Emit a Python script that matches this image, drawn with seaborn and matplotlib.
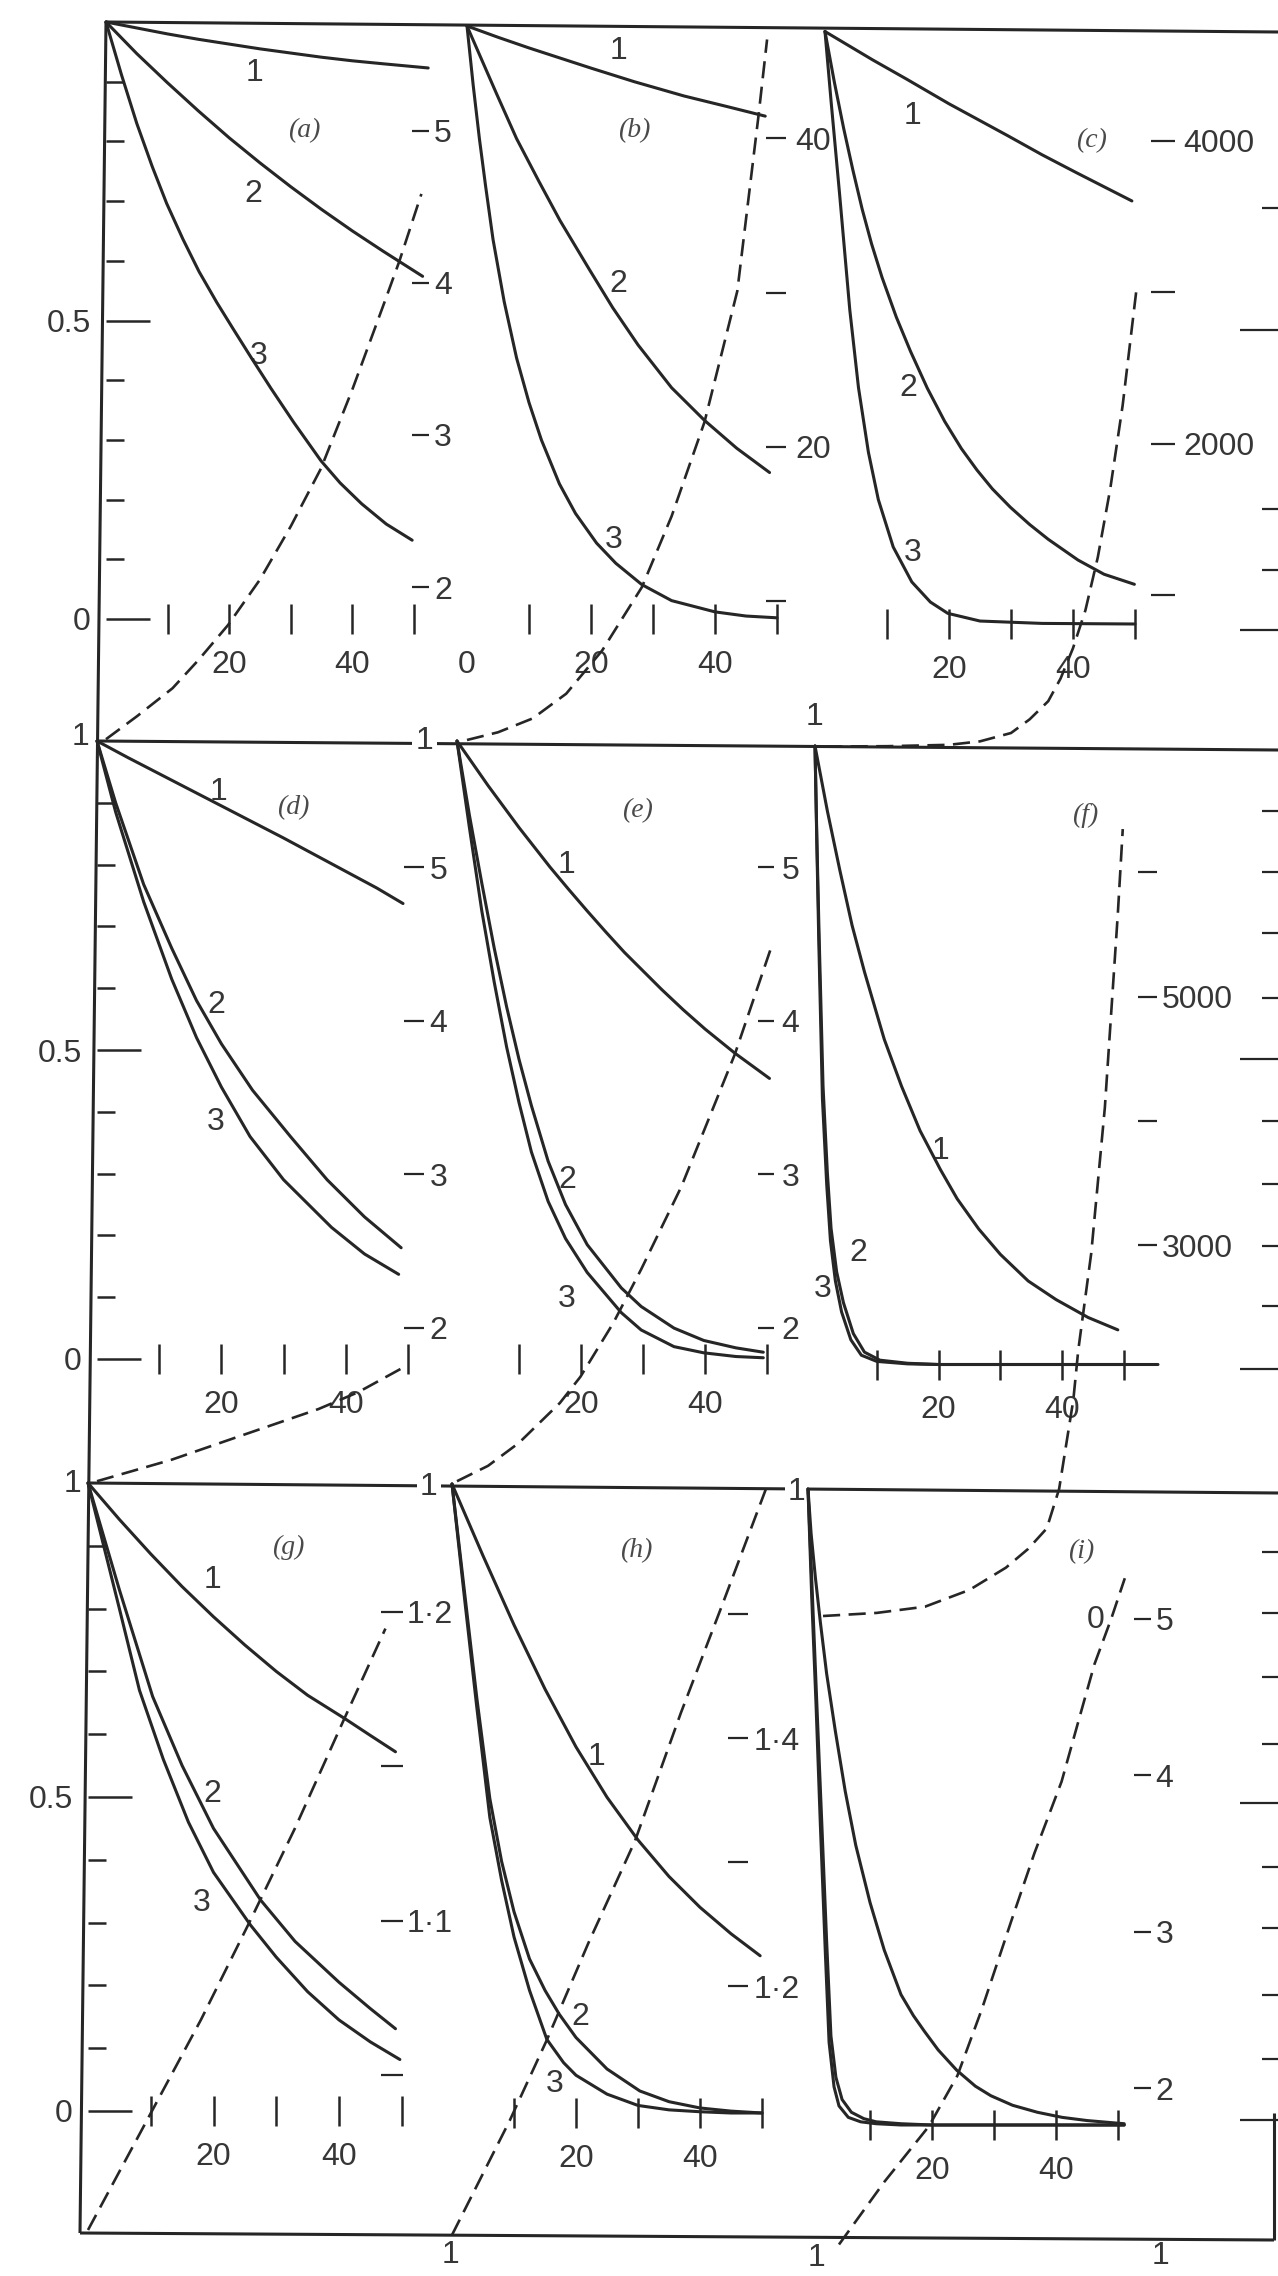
import matplotlib
matplotlib.use("Agg")
import matplotlib.pyplot as plt
import seaborn as sns

# ---------------- curve values (x, plotted quantity) ----------------
# panel (a)
a1_x = [0, 5, 10, 15, 20, 25, 30, 35, 40, 45, 52.3]
a1_y = [1.0, 0.990, 0.980, 0.971, 0.963, 0.955, 0.948, 0.941, 0.935, 0.930, 0.923]
a2_x = [0, 5, 10, 15, 20, 25, 30, 35, 40, 45, 51.4]
a2_y = [1.0, 0.947, 0.898, 0.851, 0.806, 0.764, 0.724, 0.686, 0.650, 0.616, 0.574]
a3_x = [0, 2.5, 5, 7.5, 9.85, 12.5, 15.1, 18, 20.7, 23.5, 26.8, 30.5, 34.9, 38, 41.5, 45.5, 49.7]
a3_y = [1.0, 0.912, 0.83, 0.758, 0.696, 0.636, 0.582, 0.53, 0.485, 0.439, 0.386, 0.329,
        0.265, 0.228, 0.193, 0.159, 0.132]
ad_x = [0, 5, 10.8, 15, 19.8, 25, 30, 34.9, 40, 45, 47.6, 51.2]
ad_y = [1.0, 1.15, 1.335, 1.52, 1.75, 2.05, 2.4, 2.78, 3.3, 3.85, 4.14, 4.585]
a_scale = [2, 3, 4, 5]
a_scale_lbl = ["2", "3", "4", "5"]

# panel (b)
b1_x = [0, 5, 10, 15, 20, 27, 35, 42, 48.1]
b1_y = [1.0, 0.981, 0.963, 0.946, 0.929, 0.906, 0.882, 0.864, 0.848]
b2_x = [0, 2.5, 4.8, 8, 11.6, 15, 19.7, 23.5, 27.6, 33, 38.3, 43.5, 48.8]
b2_y = [1.0, 0.94, 0.885, 0.81, 0.738, 0.672, 0.59, 0.525, 0.462, 0.39, 0.335, 0.288, 0.247]
b3_x = [0, 1, 2, 3, 4.2, 6, 8, 10, 12, 14.9, 17.5, 20.9, 24, 28.2, 33, 40, 45, 50]
b3_y = [1.0, 0.9, 0.81, 0.73, 0.64, 0.535, 0.44, 0.365, 0.302, 0.228, 0.178, 0.128, 0.094,
        0.058, 0.031, 0.012, 0.005, 0.002]
bd_x = [0, 5, 10.6, 16, 21.8, 28.2, 33, 38.3, 43.6, 47, 48.4]
bd_y = [1, 1.5, 2.4, 4.0, 6.8, 10.9, 15.5, 21.6, 30.1, 41.4, 46.4]
b_scale = [10, 20, 30, 40]
b_scale_lbl = ["", "20", "", "40"]

# panel (c)
c1_x = [0, 7.7, 13.1, 20, 29.5, 35, 40.5, 49.5]
c1_y = [1.0, 0.952, 0.92, 0.878, 0.824, 0.792, 0.762, 0.714]
c2_x = [0, 1.5, 3, 4.5, 6, 7.5, 9.2, 11.5, 13.8, 16.5, 19.3, 22, 24.5, 27, 29.9, 33, 36,
        40.8, 45, 49.9]
c2_y = [1.0, 0.915, 0.837, 0.766, 0.70, 0.642, 0.585, 0.518, 0.46, 0.398, 0.342, 0.296,
        0.26, 0.228, 0.197, 0.168, 0.143, 0.108, 0.084, 0.067]
c3_x = [0, 1, 2.35, 4, 5.4, 7, 8.6, 11, 14, 17, 19.8, 25, 35, 50]
c3_y = [1.0, 0.88, 0.726, 0.53, 0.399, 0.29, 0.21, 0.13, 0.071, 0.037, 0.018, 0.005, 0.001, 0.0]
cd_x = [0, 10, 20, 25, 30, 33, 36, 38, 40, 42, 44, 46, 48, 50.3]
cd_y = [1, 3, 12, 35, 90, 180, 300, 450, 650, 900, 1250, 1700, 2250, 3040]
c_scale = [1000, 2000, 3000, 4000]
c_scale_lbl = ["", "2000", "", "4000"]

# panel (d)
d1_x = [0, 5, 10, 15, 20, 25, 30, 35, 40, 45, 49.2]
d1_y = [1.0, 0.973, 0.947, 0.921, 0.895, 0.869, 0.843, 0.816, 0.789, 0.762, 0.737]
d2_x = [0, 3, 7.5, 12, 16, 20, 25, 31.1, 37, 43, 48.9]
d2_y = [1.0, 0.9, 0.768, 0.665, 0.58, 0.51, 0.435, 0.36, 0.29, 0.23, 0.18]
d3_x = [0, 3, 7.5, 12, 16, 20, 24.6, 30, 37.7, 43, 48.5]
d3_y = [1.0, 0.885, 0.74, 0.615, 0.52, 0.44, 0.36, 0.29, 0.213, 0.17, 0.137]
dd_x = [0, 12, 22.7, 35.6, 42, 49.2]
dd_y = [1.0, 1.14, 1.29, 1.47, 1.58, 1.74]
d_scale = [2, 3, 4, 5]
d_scale_lbl = ["2", "3", "4", "5"]

# panel (e)
e1_x = [0, 2.5, 5, 7.5, 10, 12.5, 15, 18, 21, 24, 27, 29.7, 33, 36.5, 40, 44.8, 50.4]
e1_y = [1.0, 0.964, 0.928, 0.894, 0.860, 0.828, 0.796, 0.760, 0.725, 0.691, 0.658, 0.631,
        0.598, 0.565, 0.534, 0.495, 0.454]
e2_x = [0, 2, 4, 6, 8, 10, 12, 14.7, 17.5, 21, 26.5, 29.7, 35, 39.8, 45, 49.4]
e2_y = [1.0, 0.88, 0.77, 0.665, 0.57, 0.485, 0.41, 0.32, 0.25, 0.185, 0.115, 0.085, 0.05,
        0.03, 0.018, 0.011]
e3_x = [0, 2, 4, 6, 8, 10, 12, 14.7, 17.5, 21, 26.5, 29.7, 35, 39.8, 45, 49.4]
e3_y = [1.0, 0.86, 0.725, 0.61, 0.505, 0.415, 0.335, 0.255, 0.195, 0.14, 0.075, 0.047, 0.02,
        0.01, 0.004, 0.002]
ed_x = [0, 5, 10, 16.6, 19.9, 25.2, 29.7, 36.2, 40, 44.8, 50.7]
ed_y = [1.0, 1.1, 1.25, 1.51, 1.68, 2.03, 2.38, 2.92, 3.3, 3.78, 4.48]
e_scale = [2, 3, 4, 5]
e_scale_lbl = ["2", "3", "4", "5"]

# panel (f)
f1_x = [0, 2, 4, 6, 8, 11.2, 14, 17, 20.3, 23, 26.5, 30, 34.5, 39, 44.2, 49]
f1_y = [1.0, 0.895, 0.80, 0.71, 0.635, 0.526, 0.45, 0.378, 0.315, 0.268, 0.219, 0.178,
        0.135, 0.105, 0.076, 0.056]
f2_x = [0, 0.3, 0.65, 1.3, 2, 2.6, 3.5, 4.6, 6.2, 8, 10.5, 15, 20, 30, 40, 50]
f2_y = [1.0, 0.85, 0.70, 0.45, 0.31, 0.22, 0.15, 0.10, 0.05, 0.02, 0.007, 0.002, 0, 0, 0, 0]
f3_x = [0, 0.3, 0.6, 1.2, 1.9, 2.5, 3.3, 4.3, 5.8, 7.5, 10, 15, 20, 30, 40, 50, 55.5]
f3_y = [1.0, 0.84, 0.69, 0.43, 0.29, 0.20, 0.135, 0.085, 0.04, 0.015, 0.005, 0.001, 0, 0, 0, 0, 0]
fd_x = [1.3, 10, 17.8, 25, 30.9, 34.5, 37.5, 39.5, 41.8, 42.6, 44.7, 46.9, 49, 49.8]
fd_y = [20, 45, 95, 230, 409, 560, 724, 1041, 1757, 2157, 2937, 4106, 5664, 6346]
f_scale = [3000, 4000, 5000, 6000]
f_scale_lbl = ["3000", "", "5000", ""]

# panel (g)
g1_x = [0, 5, 10, 15, 20, 25, 30, 35, 40.9, 45, 49]
g1_y = [1.0, 0.942, 0.887, 0.835, 0.787, 0.742, 0.70, 0.662, 0.625, 0.598, 0.572]
g2_x = [0, 5, 10.3, 15, 20, 27.5, 33, 40, 45, 49]
g2_y = [1.0, 0.83, 0.66, 0.55, 0.45, 0.336, 0.27, 0.205, 0.163, 0.131]
g3_x = [0, 5, 8.2, 12, 16, 20, 25.9, 30, 35, 40, 45, 49.7]
g3_y = [1.0, 0.8, 0.67, 0.56, 0.46, 0.38, 0.296, 0.245, 0.19, 0.145, 0.11, 0.082]
gd_x = [0, 9.4, 18, 25.6, 33, 40.9, 47.4]
gd_y = [1.0, 1.0355, 1.068, 1.099, 1.13, 1.1656, 1.1945]
g_scale = [1.05, 1.1, 1.15, 1.2]
g_scale_lbl = ["", "1\u00b71", "", "1\u00b72"]

# panel (h)
h1_x = [0, 5, 10, 15, 20, 25, 30, 35, 40, 45, 49.7]
h1_y = [1.0, 0.886, 0.776, 0.674, 0.582, 0.502, 0.434, 0.376, 0.327, 0.285, 0.25]
h2_x = [0, 2, 4, 6.1, 8, 10, 12.5, 15, 17.3, 20, 25, 30.3, 35, 40, 45, 50]
h2_y = [1.0, 0.83, 0.66, 0.50, 0.40, 0.32, 0.245, 0.195, 0.157, 0.12, 0.07, 0.035, 0.018,
        0.008, 0.003, 0.0]
h3_x = [0, 2, 4, 6.1, 8, 10, 12.5, 15.3, 18, 20, 25, 30, 35, 40, 45, 50]
h3_y = [1.0, 0.82, 0.645, 0.47, 0.37, 0.28, 0.195, 0.117, 0.08, 0.06, 0.03, 0.012, 0.005,
        0.002, 0.0, 0.0]
hd_x = [0, 9.3, 15.3, 22, 29.5, 36.9, 43.5, 50.6]
hd_y = [1.0, 1.092, 1.157, 1.235, 1.317, 1.42, 1.506, 1.60]
h_scale = [1.2, 1.3, 1.4, 1.5]
h_scale_lbl = ["1\u00b72", "", "1\u00b74", ""]

# panel (i)
i1_x = [0, 0.5, 1.2, 2, 3, 4.4, 6, 7.7, 10, 12.3, 15, 17, 18.8, 21, 24, 27, 29.5, 33, 37,
        41, 45, 51]
i1_y = [1.0, 0.93, 0.86, 0.79, 0.71, 0.62, 0.525, 0.44, 0.35, 0.275, 0.205, 0.172, 0.147,
        0.118, 0.086, 0.061, 0.046, 0.031, 0.02, 0.012, 0.007, 0.002]
i2_x = [0, 0.7, 1.4, 2.2, 3, 3.7, 4.5, 5.5, 7, 9, 11, 15, 20, 30, 40, 51]
i2_y = [1.0, 0.835, 0.668, 0.48, 0.29, 0.14, 0.075, 0.04, 0.02, 0.01, 0.005, 0.002, 0, 0, 0, 0]
i3_x = [0, 0.6, 1.3, 2, 2.8, 3.4, 4.2, 5, 6.5, 8.5, 11, 15, 20, 30, 40, 51]
i3_y = [1.0, 0.83, 0.66, 0.47, 0.27, 0.13, 0.06, 0.03, 0.012, 0.005, 0.002, 0, 0, 0, 0, 0]
id_x = [5, 12.3, 19.5, 24.1, 28, 32.8, 36.5, 40.9, 44, 46.2, 48.9, 51.1]
id_y = [1.0, 1.4, 1.756, 2.08, 2.5, 3.07, 3.5, 3.96, 4.4, 4.71, 5.0, 5.26]
i_scale = [2, 3, 4, 5]
i_scale_lbl = ["2", "3", "4", "5"]

# shared axis ticks
x_ticks = [10, 20, 30, 40, 50]
x_tick_lbl = ["", "20", "", "40", ""]
y_major = [0, 0.5]
y_major_lbl = ["0", "0.5"]
y_minor = [0.1, 0.2, 0.3, 0.4, 0.6, 0.7, 0.8, 0.9]

# ---------------- styling / layout ----------------
W, H, DPI = 1278, 2276, 100
INK = "#262626"
TXT = "#363636"
FS = 23
LW = 2.2
DASH = (0, (6.5, 3.2))

sns.set_theme(style="white", rc={"axes.facecolor": "none"})
plt.rcParams["font.family"] = ["Liberation Sans", "DejaVu Sans"]

fig = plt.figure(figsize=(W / DPI, H / DPI), dpi=DPI, facecolor="white")

# pixel-space layer for the ruled frame and the free-standing labels
board = fig.add_axes([0, 0, 1, 1], zorder=0)
board.set_xlim(0, W)
board.set_ylim(H, 0)
board.axis("off")


def rule(p, q, lw=LW):
    board.plot([p[0], q[0]], [p[1], q[1]], color=INK, lw=lw, solid_capstyle="butt")


def note(x, y, s, size=FS, boxed=False, **kw):
    bbox = dict(boxstyle="square,pad=0.1", fc="white", ec="none") if boxed else None
    board.text(x, y, s, ha="center", va="center", fontsize=size, color=TXT,
               bbox=bbox, zorder=5, **kw)


# panel boxes: pixel column of x = 0, pixels per x unit, rows of value 1 and 0
GEOM = {
    "a": dict(x0=106, k=6.16, top=22, bottom=619),
    "b": dict(x0=467, k=6.2, top=26, bottom=619),
    "c": dict(x0=825, k=6.2, top=31.5, bottom=624),
    "d": dict(x0=97, k=6.22, top=741, bottom=1359),
    "e": dict(x0=457, k=6.2, top=741, bottom=1359),
    "f": dict(x0=815, k=6.18, top=746, bottom=1364.5),
    "g": dict(x0=88, k=6.275, top=1483, bottom=2111),
    "h": dict(x0=452, k=6.2, top=1484, bottom=2113),
    "i": dict(x0=808, k=6.2, top=1489, bottom=2125),
}
# secondary scales: where the dashes start, a reference value and its pixel row,
# pixels per unit, dash length and label gap (points)
SCALE = {
    "a": dict(tx=412, ref=1, ref_px=739.2, ppu=152.1, ln=12, pad=4),
    "b": dict(tx=766, ref=1, ref_px=740, ppu=15.43, ln=14.5, pad=6.5),
    "c": dict(tx=1151, ref=1, ref_px=746.5, ppu=0.1515, ln=17, pad=6),
    "d": dict(tx=404, ref=5, ref_px=867.2, ppu=153.5, ln=14.5, pad=4),
    "e": dict(tx=758, ref=5, ref_px=867.2, ppu=153.5, ln=11.5, pad=5.5),
    "f": dict(tx=1138, ref=4500, ref_px=1058.7, ppu=0.1244, ln=14, pad=3),
    "g": dict(tx=381, ref=1, ref_px=2230, ppu=3092, ln=16, pad=2.5),
    "h": dict(tx=728, ref=1, ref_px=2235, ppu=1242.5, ln=14.5, pad=4),
    "i": dict(tx=1134, ref=1, ref_px=2244.5, ppu=156.4, ln=12, pad=3.5),
}

PANELS = {
    "a": dict(curves=[(a1_x, a1_y), (a2_x, a2_y), (a3_x, a3_y)], dash=(ad_x, ad_y),
              scale=(a_scale, a_scale_lbl), left=True),
    "b": dict(curves=[(b1_x, b1_y), (b2_x, b2_y), (b3_x, b3_y)], dash=(bd_x, bd_y),
              scale=(b_scale, b_scale_lbl), zero=True),
    "c": dict(curves=[(c1_x, c1_y), (c2_x, c2_y), (c3_x, c3_y)], dash=(cd_x, cd_y),
              scale=(c_scale, c_scale_lbl)),
    "d": dict(curves=[(d1_x, d1_y), (d2_x, d2_y), (d3_x, d3_y)], dash=(dd_x, dd_y),
              scale=(d_scale, d_scale_lbl), left=True),
    "e": dict(curves=[(e1_x, e1_y), (e2_x, e2_y), (e3_x, e3_y)], dash=(ed_x, ed_y),
              scale=(e_scale, e_scale_lbl)),
    "f": dict(curves=[(f1_x, f1_y), (f2_x, f2_y), (f3_x, f3_y)], dash=(fd_x, fd_y),
              scale=(f_scale, f_scale_lbl)),
    "g": dict(curves=[(g1_x, g1_y), (g2_x, g2_y), (g3_x, g3_y)], dash=(gd_x, gd_y),
              scale=(g_scale, g_scale_lbl), left=True),
    "h": dict(curves=[(h1_x, h1_y), (h2_x, h2_y), (h3_x, h3_y)], dash=(hd_x, hd_y),
              scale=(h_scale, h_scale_lbl)),
    "i": dict(curves=[(i1_x, i1_y), (i2_x, i2_y), (i3_x, i3_y)], dash=(id_x, id_y),
              scale=(i_scale, i_scale_lbl)),
}

XMAX = 56


def draw_panel(name):
    g, p, sc = GEOM[name], PANELS[name], SCALE[name]
    x0, k, top, bot = g["x0"], g["k"], g["top"], g["bottom"]

    # main axes: x against the 0..1 quantity
    ax = fig.add_axes([x0 / W, 1 - bot / H, XMAX * k / W, (bot - top) / H], zorder=2)
    for xs, ys in p["curves"]:
        sns.lineplot(x=xs, y=ys, ax=ax, color=INK, lw=LW, sort=False,
                     estimator=None, clip_on=False)
    ax.set_xlim(0, XMAX)
    ax.set_ylim(0, 1)
    ax.patch.set_alpha(0)
    for sp in ax.spines.values():
        sp.set_visible(False)
    ax.set_xlabel("")
    ax.set_ylabel("")

    if p.get("zero"):
        ax.set_xticks([0] + x_ticks, ["0"] + x_tick_lbl)
    else:
        ax.set_xticks(x_ticks, x_tick_lbl)
    ax.tick_params(axis="x", which="major", direction="inout", length=22, width=1.8,
                   color=INK, pad=11, labelsize=FS, labelcolor=TXT, bottom=True, top=False)
    if p.get("zero"):
        ax.xaxis.get_major_ticks()[0].tick1line.set_visible(False)

    if p.get("left"):
        ax.set_yticks(y_major, y_major_lbl)
        ax.set_yticks(y_minor, minor=True)
        ax.tick_params(axis="y", which="major", direction="in", length=32, width=1.8,
                       color=INK, pad=11, labelsize=FS, labelcolor=TXT, left=True)
        ax.tick_params(axis="y", which="minor", direction="in", length=13, width=1.8,
                       color=INK, left=True)
    else:
        ax.set_yticks([])

    # secondary axes carrying the dashed curve and its right-hand scale
    tx = sc["tx"]
    ax2 = fig.add_axes([x0 / W, 1 - bot / H, (tx - x0) / W, (bot - top) / H], zorder=3)
    dx, dy = p["dash"]
    sns.lineplot(x=dx, y=dy, ax=ax2, color=INK, lw=1.9, linestyle=DASH, sort=False,
                 estimator=None, clip_on=False)
    ax2.set_xlim(0, (tx - x0) / k)
    ref, rpx, ppu = sc["ref"], sc["ref_px"], sc["ppu"]
    ax2.set_ylim(ref + (rpx - bot) / ppu, ref + (rpx - top) / ppu)
    ax2.patch.set_alpha(0)
    for sp in ax2.spines.values():
        sp.set_visible(False)
    ax2.set_xticks([])
    ax2.set_xlabel("")
    ax2.set_ylabel("")
    ticks, lbls = p["scale"]
    ax2.yaxis.tick_right()
    ax2.set_yticks(ticks, lbls)
    ax2.tick_params(axis="y", direction="out", length=sc["ln"], width=1.6, color=INK,
                    pad=sc["pad"], labelsize=FS, labelcolor=TXT, right=True, left=False,
                    labelright=True, labelleft=False)


for nm in "abcdefghi":
    draw_panel(nm)

# ruled frame (slightly skewed, as printed)
rule((106, 22), (80, 2233))
rule((106, 22), (1278, 32))
rule((97, 741), (1278, 750))
rule((88, 1483), (1278, 1493))
rule((80, 2233), (1274, 2240))
rule((1274, 2113), (1274, 2240))

# tick marks of the scale cut off at the right edge
for yy, long in [(208, False), (330, True), (509, False), (570, False), (630, True),
                 (811, False), (872, False), (933, False), (998, False), (1059, True),
                 (1121, False), (1184, False), (1246, False), (1306, False), (1369, True),
                 (1552, False), (1613, False), (1677, False), (1744, False), (1803, True),
                 (1867, False), (1928, False), (1995, False), (2059, False), (2120, True)]:
    rule((1240 if long else 1262, yy), (1278, yy), lw=1.6)

# values "1" where the dashed curves begin, and other loose numerals
note(424.5, 741, "1", boxed=True)
note(815, 717, "1")
note(81, 737, "1")
note(73, 1484, "1")
note(428.6, 1487, "1", boxed=True)
note(796.7, 1492, "1", boxed=True)
note(451, 2255, "1")
note(817, 2258, "1")
note(1161, 2256, "1")
note(1096, 1620, "0")

# curve numbers
for (x, y, s) in [(255, 73, "1"), (253, 194, "2"), (259, 356, "3"),
                  (618, 51, "1"), (618, 284, "2"), (614, 540, "3"),
                  (913, 116, "1"), (908, 388, "2"), (913, 553, "3"),
                  (218, 792, "1"), (216, 1005, "2"), (216, 1122, "3"),
                  (567, 865, "1"), (567, 1180, "2"), (567, 1299, "3"),
                  (940, 1151, "1"), (858, 1253, "2"), (823, 1289, "3"),
                  (212, 1580, "1"), (212, 1794, "2"), (202, 1903, "3"),
                  (596, 1757, "1"), (580, 2017, "2"), (555, 2084, "3")]:
    note(x, y, s)

# panel letters
for (x, y, s) in [(304, 131, "(a)"), (634, 131, "(b)"), (1091, 141, "(c)"),
                  (293, 808, "(d)"), (637, 811, "(e)"), (1085, 815, "(f)"),
                  (288, 1547, "(g)"), (636, 1551, "(h)"), (1081, 1552, "(i)")]:
    board.text(x, y, s, ha="center", va="center", fontsize=20, color="#4a4a4a",
               family=["Liberation Serif", "DejaVu Serif"], style="italic", zorder=5)

fig.savefig("out.png", dpi=DPI, facecolor="white")
